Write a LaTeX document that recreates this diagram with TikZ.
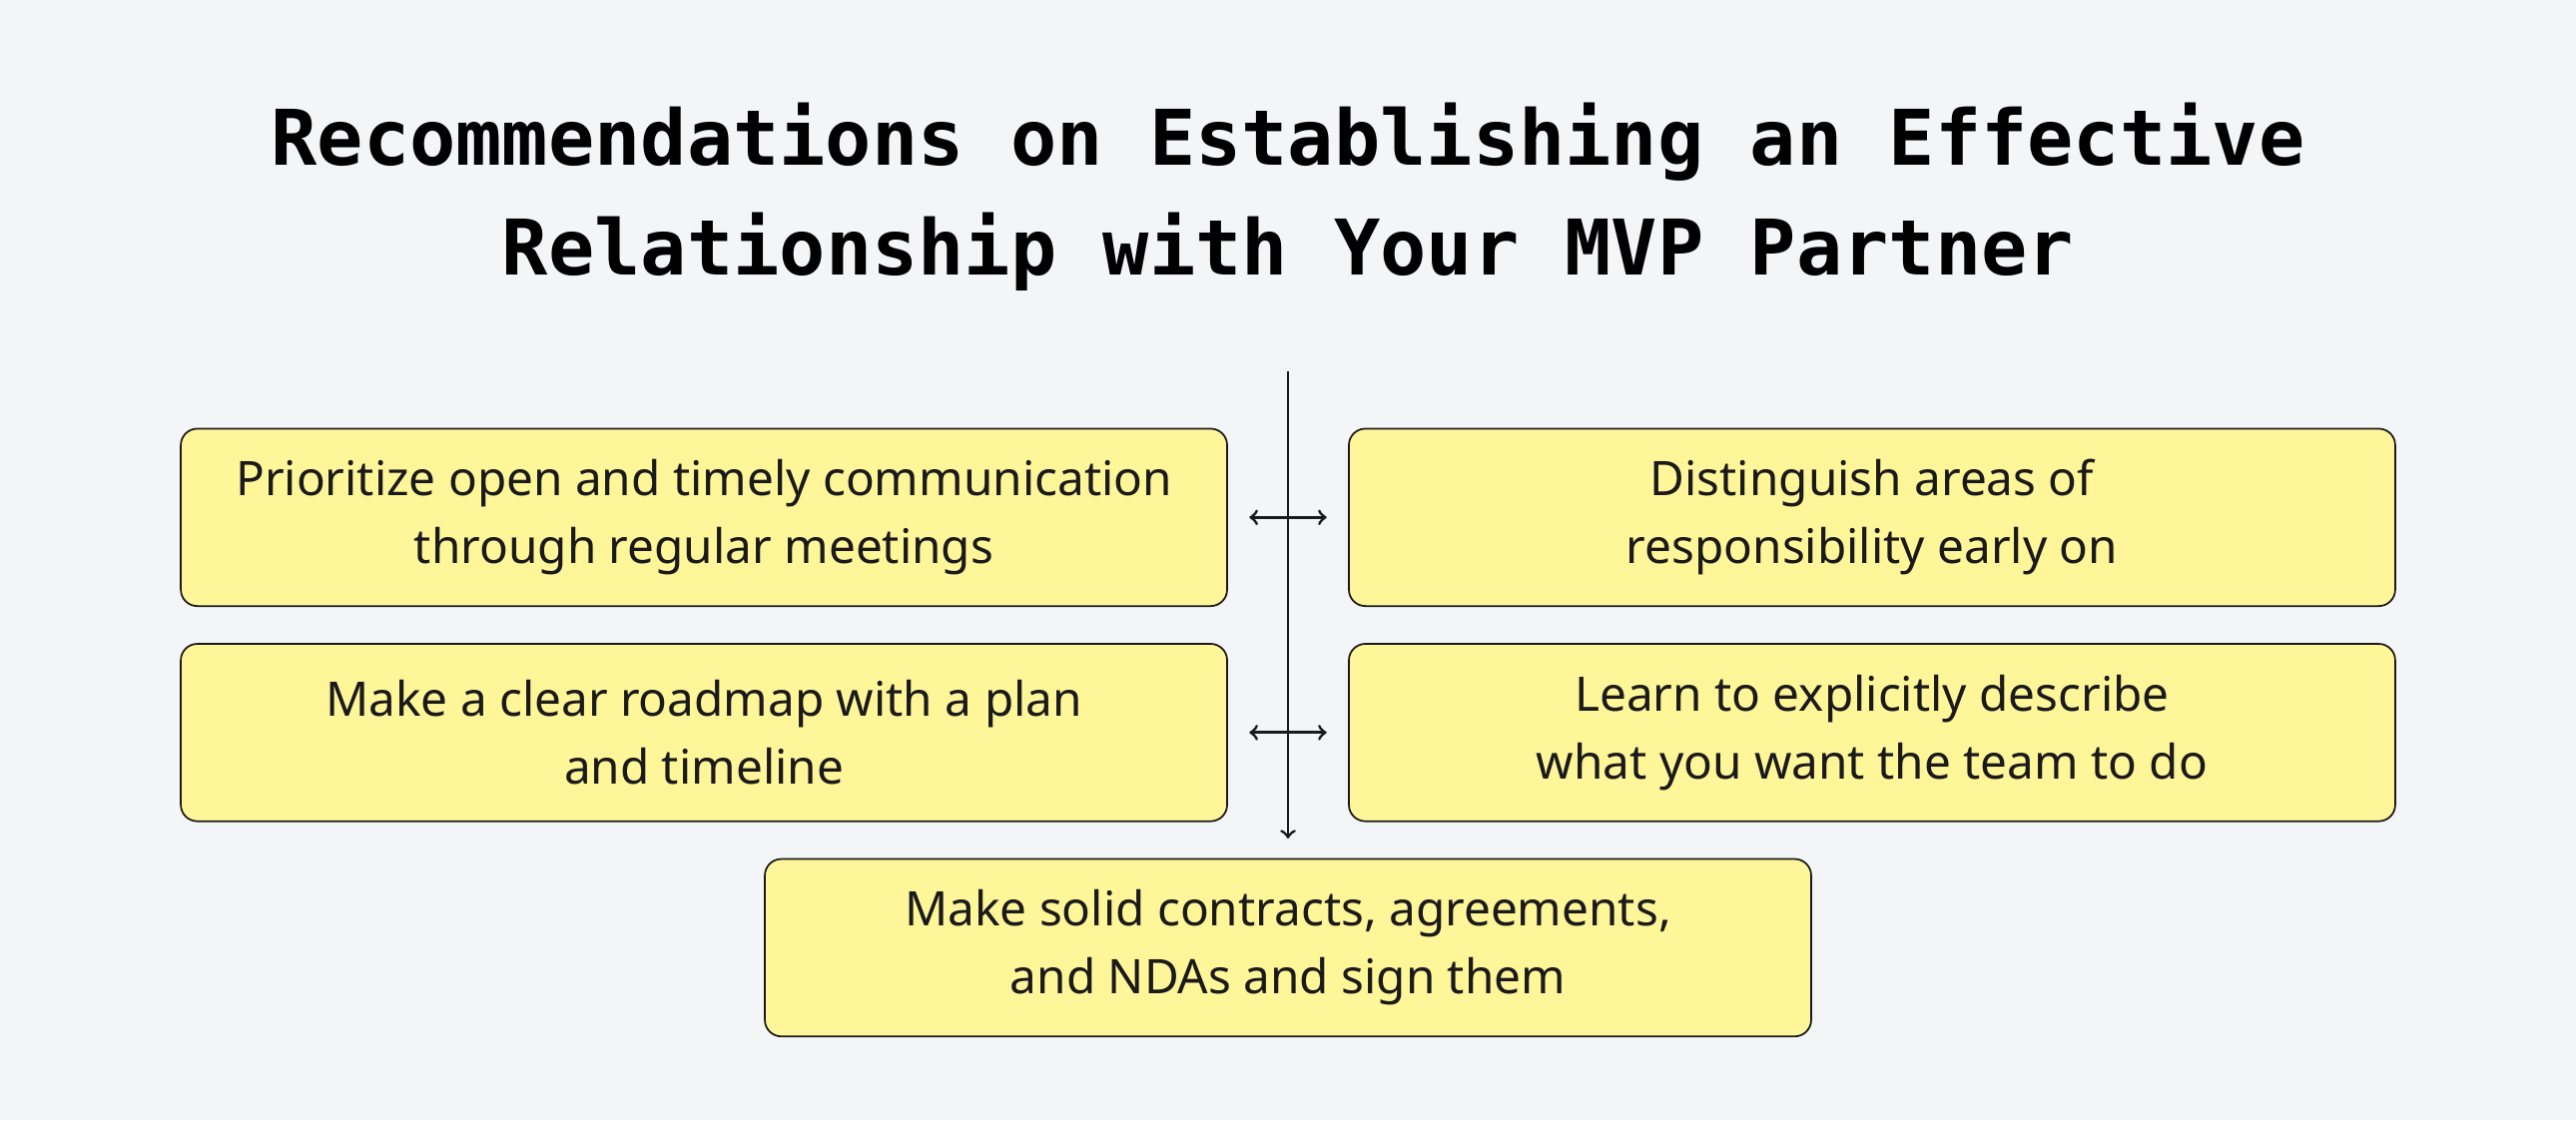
\documentclass[tikz,border=0pt]{standalone}
\usepackage{fontspec}
\setmainfont{Noto Sans}
\newfontfamily\titlefont{DejaVu Sans Mono}
\definecolor{bgcol}{HTML}{F4F5F7}
\definecolor{boxcol}{HTML}{FFF599}
\definecolor{inkcol}{HTML}{1A1A1A}

\begin{document}
\begin{tikzpicture}[x=0.02cm,y=-0.02cm,
    tip box/.style={draw=inkcol, line width=0.6pt, fill=boxcol, rounded corners=0.2cm,
      minimum width=12.74cm, minimum height=2.16cm, align=center, text=inkcol,
      font=\fontsize{16.5}{23.5}\selectfont},
    link/.style={inkcol, line width=1pt, >=to}]
            \fill[bgcol] (0,0) rectangle (1568,682);
            \useasboundingbox (0,0) rectangle (1568,682);

            \node[font=\titlefont\bfseries\fontsize{26.6}{38}\selectfont, align=center] (title) at (784,120)
              {Recommendations on Establishing an Effective\\Relationship with Your MVP Partner};

            \node[tip box] (prio) at (428.5,315) {Prioritize open and timely communication\\through regular meetings};
            \node[tip box] (resp) at (1139.5,315) {Distinguish areas of\\responsibility early on};
            \node[tip box] (road) at (428.5,446) {Make a clear roadmap with a plan\\and timeline};
            \node[tip box] (desc) at (1139.5,446) {Learn to explicitly describe\\what you want the team to do};
            \node[tip box] (sign) at (784,577) {Make solid contracts, agreements,\\and NDAs and sign them};

            \coordinate (spine) at (784,226);
            \draw[link, ->, shorten >=0.24cm] (spine) -- (sign.north);
            \draw[link, <->, shorten <=0.26cm, shorten >=0.26cm] (prio.east) -- (resp.west);
            \draw[link, <->, shorten <=0.26cm, shorten >=0.26cm] (road.east) -- (desc.west);
\end{tikzpicture}
\end{document}
